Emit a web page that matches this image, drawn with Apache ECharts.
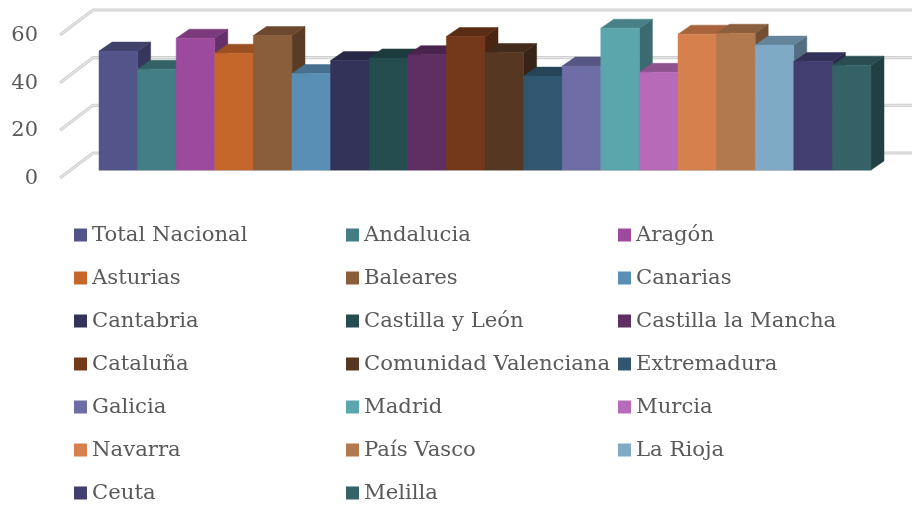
<!DOCTYPE html>
<html>
<head>
<meta charset="utf-8">
<style>html,body{margin:0;padding:0;background:#fff}#chart{width:912px;height:507px}</style>
<script src="https://cdn.jsdelivr.net/npm/echarts@6/dist/echarts.min.js"></script>
</head>
<body>
<div id="chart"></div>
<script>
const regions = ['Total Nacional', 'Andalucia', 'Aragón', 'Asturias', 'Baleares', 'Canarias', 'Cantabria', 'Castilla y León', 'Castilla la Mancha', 'Cataluña', 'Comunidad Valenciana', 'Extremadura', 'Galicia', 'Madrid', 'Murcia', 'Navarra', 'País Vasco', 'La Rioja', 'Ceuta', 'Melilla']
const values = [49.9, 42.3, 55.3, 49, 56.4, 40.5, 45.9, 47, 48.4, 56, 49.3, 39.4, 43.6, 59.5, 41, 57, 57.4, 52.4, 45.5, 44]
const colors = ['#53548a', '#427e83', '#9c4a9e', '#c5662b', '#8a5d3b', '#5a8fb5', '#33335a', '#254c4e', '#5f2e62', '#74391a', '#553722', '#315770', '#6f6da6', '#5ba5ad', '#b66ab7', '#d6804e', '#b2794f', '#7fa9c5', '#423f70', '#356267']
const gridValues = [0, 20, 40, 60]

// 柱子的透视偏移
const depthX = 13
const depthY = -9
// 背景墙相对于柱子正面的偏移
const wallX = -6
const wallY = -17
const sideX = -39
const sideY = 8

function shade(hex, k) {
  const n = parseInt(hex.slice(1), 16)
  const c = [n >> 16, (n >> 8) & 255, n & 255].map(v => Math.round(v * k))
  return `rgb(${c.join(',')})`
}

function renderBar(params, api) {
  const color = colors[params.seriesIndex - 1]
  const w = api.size([1, 0])[0]
  const top = api.coord([api.value(0), api.value(1)])
  const base = api.coord([api.value(0), 0])
  const l = top[0] - w / 2
  const r = top[0] + w / 2
  const poly = (points, fill) => ({
    type: 'polygon',
    shape: { points },
    style: { fill, stroke: fill, lineWidth: 0.5 },
  })
  return {
    type: 'group',
    children: [
      poly([[r, top[1]], [r + depthX, top[1] + depthY], [r + depthX, base[1] + depthY], [r, base[1]]], shade(color, 0.65)),
      poly([[l, top[1]], [l + depthX, top[1] + depthY], [r + depthX, top[1] + depthY], [r, top[1]]], shade(color, 0.78)),
      poly([[l, top[1]], [r, top[1]], [r, base[1]], [l, base[1]]], color),
    ],
  }
}

function renderWall(params, api) {
  const w = api.size([1, 0])[0]
  const p = api.coord([0, api.value(0)])
  const x = p[0] - w / 2
  const y = p[1]
  const points = [[x + sideX, y + sideY], [x + wallX, y + wallY], [api.getWidth() + 5, y + wallY]]
  const line = (stroke, lineWidth) => ({
    type: 'polyline',
    shape: { points },
    style: { fill: null, stroke, lineWidth },
  })
  return { type: 'group', children: [line('#cfcfcf', 3.2), line('#e6e6e6', 1.2)] }
}

const legendColumns = [0, 1, 2].map(col => regions.filter((_, i) => i % 3 === col))

const chart = echarts.init(document.getElementById('chart'))
chart.setOption({
  animation: false,
  textStyle: { fontFamily: 'DejaVu Serif' },
  grid: { left: 99, right: 41, top: 27, height: 143 },
  xAxis: {
    type: 'category',
    data: regions,
    axisLine: { show: true, lineStyle: { color: '#c4c4c4', width: 1 } },
    axisTick: { show: false },
    axisLabel: { show: false },
  },
  yAxis: {
    type: 'value',
    min: 0,
    max: 60,
    interval: 20,
    splitLine: { show: false },
    axisLine: { show: false },
    axisTick: { show: false },
    axisLabel: {
      margin: 61,
      color: '#595959',
      fontFamily: 'DejaVu Serif',
      fontSize: 21,
      verticalAlign: 'top',
      lineHeight: 17,
    },
  },
  legend: legendColumns.map((data, col) => ({
    orient: 'vertical',
    left: 74 + col * 272,
    top: 222,
    height: 300,
    padding: 0,
    itemWidth: 13,
    itemHeight: 13,
    itemGap: 17,
    icon: 'rect',
    data,
    selectedMode: false,
    textStyle: {
      color: '#595959',
      fontFamily: 'DejaVu Serif',
      fontSize: 21.2,
      lineHeight: 26,
    },
  })),
  series: [
    {
      type: 'custom',
      silent: true,
      clip: false,
      renderItem: renderWall,
      data: gridValues.map(v => [v]),
      encode: { y: 0 },
      z: 1,
    },
    ...regions.map((name, i) => ({
      name,
      type: 'custom',
      clip: false,
      renderItem: renderBar,
      itemStyle: { color: colors[i] },
      data: [[i, values[i]]],
      encode: { x: 0, y: 1 },
      z: 2,
    })),
  ],
})
</script>
</body>
</html>
